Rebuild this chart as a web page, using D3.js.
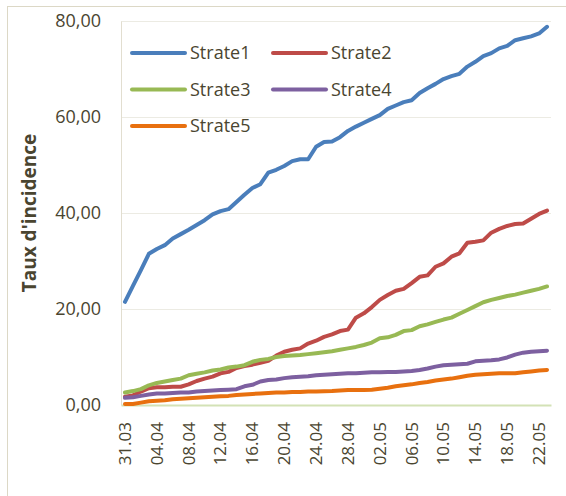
<!DOCTYPE html>
<meta charset="utf-8">
<head>
    <title>Taux d'incidence par strate</title>
    <script src="https://d3js.org/d3.v7.min.js"></script>
</head>

<style>
body { margin: 0; background: #fff; }
text { font-family: "Open Sans", sans-serif; fill: #4a4530; }
.line { fill: none; stroke-width: 4; stroke-linejoin: round; stroke-linecap: round; }
</style>

<body>

<svg></svg>

<script>

let dates = [
  "31.03", "01.04", "02.04", "03.04", "04.04", "05.04", "06.04", "07.04", "08.04", "09.04",
  "10.04", "11.04", "12.04", "13.04", "14.04", "15.04", "16.04", "17.04", "18.04", "19.04",
  "20.04", "21.04", "22.04", "23.04", "24.04", "25.04", "26.04", "27.04", "28.04", "29.04",
  "30.04", "01.05", "02.05", "03.05", "04.05", "05.05", "06.05", "07.05", "08.05", "09.05",
  "10.05", "11.05", "12.05", "13.05", "14.05", "15.05", "16.05", "17.05", "18.05", "19.05",
  "20.05", "21.05", "22.05", "23.05"
];

let strate1 = [21.5, 24.8, 28.1, 31.5, 32.5, 33.3, 34.7, 35.6, 36.5, 37.5,
  38.5, 39.7, 40.4, 40.8, 42.3, 43.8, 45.2, 46.0, 48.4, 49.0,
  49.8, 50.8, 51.2, 51.2, 53.8, 54.8, 54.9, 55.8, 57.1, 58.0,
  58.8, 59.6, 60.4, 61.7, 62.4, 63.1, 63.5, 65.0, 66.0, 66.9,
  67.9, 68.5, 69.0, 70.5, 71.5, 72.7, 73.3, 74.3, 74.8, 76.0,
  76.4, 76.8, 77.4, 78.8];

let strate2 = [1.7, 2.0, 2.8, 3.5, 3.7, 3.7, 3.8, 3.8, 4.3, 5.0,
  5.5, 5.9, 6.6, 6.9, 7.7, 8.1, 8.4, 8.8, 9.2, 10.3,
  11.1, 11.5, 11.8, 12.8, 13.4, 14.2, 14.7, 15.4, 15.7, 18.2,
  19.1, 20.4, 21.9, 22.9, 23.8, 24.2, 25.4, 26.7, 27.0, 28.8,
  29.5, 30.9, 31.6, 33.8, 34.0, 34.3, 35.9, 36.7, 37.3, 37.7,
  37.8, 38.8, 39.8, 40.5];

let strate3 = [2.6, 2.9, 3.3, 4.1, 4.6, 4.9, 5.2, 5.5, 6.2, 6.5,
  6.8, 7.2, 7.4, 7.8, 8.0, 8.3, 9.0, 9.4, 9.6, 10.0,
  10.2, 10.3, 10.4, 10.6, 10.8, 11.0, 11.2, 11.5, 11.8, 12.1,
  12.5, 13.0, 13.9, 14.1, 14.6, 15.4, 15.6, 16.4, 16.8, 17.3,
  17.8, 18.2, 19.0, 19.8, 20.6, 21.4, 21.9, 22.3, 22.7, 23.0,
  23.4, 23.8, 24.2, 24.7];

let strate4 = [1.5, 1.6, 1.9, 2.2, 2.4, 2.4, 2.5, 2.6, 2.6, 2.8,
  2.9, 3.0, 3.1, 3.2, 3.3, 3.9, 4.2, 4.9, 5.2, 5.3,
  5.6, 5.8, 5.9, 6.0, 6.2, 6.3, 6.4, 6.5, 6.6, 6.6,
  6.7, 6.8, 6.8, 6.9, 6.9, 7.0, 7.1, 7.3, 7.6, 8.0,
  8.3, 8.4, 8.5, 8.6, 9.1, 9.2, 9.3, 9.5, 9.9, 10.5,
  10.9, 11.1, 11.2, 11.3];

let strate5 = [0.2, 0.2, 0.5, 0.8, 0.9, 1.0, 1.2, 1.3, 1.4, 1.5,
  1.6, 1.7, 1.8, 1.9, 2.1, 2.2, 2.3, 2.4, 2.5, 2.6,
  2.6, 2.7, 2.7, 2.8, 2.8, 2.85, 2.9, 3.0, 3.1, 3.1,
  3.1, 3.2, 3.4, 3.6, 3.9, 4.1, 4.3, 4.6, 4.8, 5.1,
  5.3, 5.5, 5.8, 6.1, 6.3, 6.4, 6.5, 6.6, 6.6, 6.6,
  6.8, 7.0, 7.2, 7.3];

let seriesNames = ["Strate1", "Strate2", "Strate3", "Strate4", "Strate5"];
let seriesColors = ["#4a7ebb", "#be4b48", "#98b954", "#7d60a0", "#e8700f"];
let yTicks = [0, 20, 40, 60, 80];
let xTickLabels = dates.filter(function(d, i) { return i % 4 === 0; });

let series = [strate1, strate2, strate3, strate4, strate5].map(function(v, k) {
  return { name: seriesNames[k], color: seriesColors[k], values: v };
});

// dimensions
let W = 566, H = 496;
let margin = {top: 21, right: 15, bottom: 91, left: 121};
let width = W - margin.left - margin.right;
let height = H - margin.top - margin.bottom;

let svgRoot = d3.select("svg").attr("width", W).attr("height", H);

// outer chart border
svgRoot.append("rect")
  .attr("x", 7.5).attr("y", 6.5)
  .attr("width", W + 20).attr("height", H + 20)
  .attr("fill", "none").attr("stroke", "#dcd8c6").attr("stroke-width", 1);

let svg = svgRoot.append("g")
  .attr("transform", "translate(" + margin.left + "," + margin.top + ")");

// scales
let x = d3.scaleBand().domain(dates).range([0, width]);
let y = d3.scaleLinear().domain([0, 80]).range([height, 0]);

// gridlines
svg.append("g")
  .call(d3.axisLeft(y).tickValues(yTicks.slice(1)).tickSize(-width).tickFormat(""))
  .call(function(g) { g.select(".domain").remove(); })
  .call(function(g) { g.selectAll("line").attr("stroke", "#ecebe3"); });

// y axis
svg.append("g")
  .call(d3.axisLeft(y).tickValues(yTicks).tickSize(0).tickPadding(20)
    .tickFormat(function(d) { return d3.format(".2f")(d).replace(".", ","); }))
  .call(function(g) { g.select(".domain").attr("stroke", "#e2ded0"); })
  .call(function(g) { g.selectAll("text").style("font-size", "18px").attr("fill", "#4a4530"); });

// x axis
let xAxis = svg.append("g")
  .attr("transform", "translate(0," + height + ")")
  .call(d3.axisBottom(x).tickValues(xTickLabels).tickSize(0));
xAxis.select(".domain").attr("stroke", "#d3e2b6").attr("stroke-width", 2);
xAxis.selectAll("text")
  .style("font-size", "17px")
  .attr("fill", "#4a4530")
  .attr("transform", "rotate(-90)")
  .attr("text-anchor", "end")
  .attr("x", -17)
  .attr("y", 0)
  .attr("dy", "0.35em");

// lines
let line = d3.line()
  .x(function(d, i) { return x(dates[i]) + x.bandwidth() / 2; })
  .y(function(d) { return y(d); });

svg.selectAll(".line")
  .data(series)
  .enter()
  .append("path")
  .attr("class", "line")
  .attr("stroke", function(d) { return d.color; })
  .attr("d", function(d) { return line(d.values); });

// legend
let legend = svg.selectAll(".legend")
  .data(series)
  .enter()
  .append("g")
  .attr("class", "legend")
  .attr("transform", function(d, i) {
    return "translate(" + (11 + (i % 2) * 141) + "," + (32 + Math.floor(i / 2) * 36.5) + ")";
  });

legend.append("line")
  .attr("x1", 0).attr("x2", 53)
  .attr("stroke", function(d) { return d.color; })
  .attr("stroke-width", 4)
  .attr("stroke-linecap", "round");

legend.append("text")
  .attr("x", 58)
  .attr("dy", "0.36em")
  .style("font-size", "18px")
  .text(function(d) { return d.name; });

// axis title
svgRoot.append("text")
  .attr("transform", "translate(36,213) rotate(-90)")
  .attr("text-anchor", "middle")
  .style("font-size", "19px")
  .style("font-weight", "bold")
  .text("Taux d'incidence");

</script>

</body>
